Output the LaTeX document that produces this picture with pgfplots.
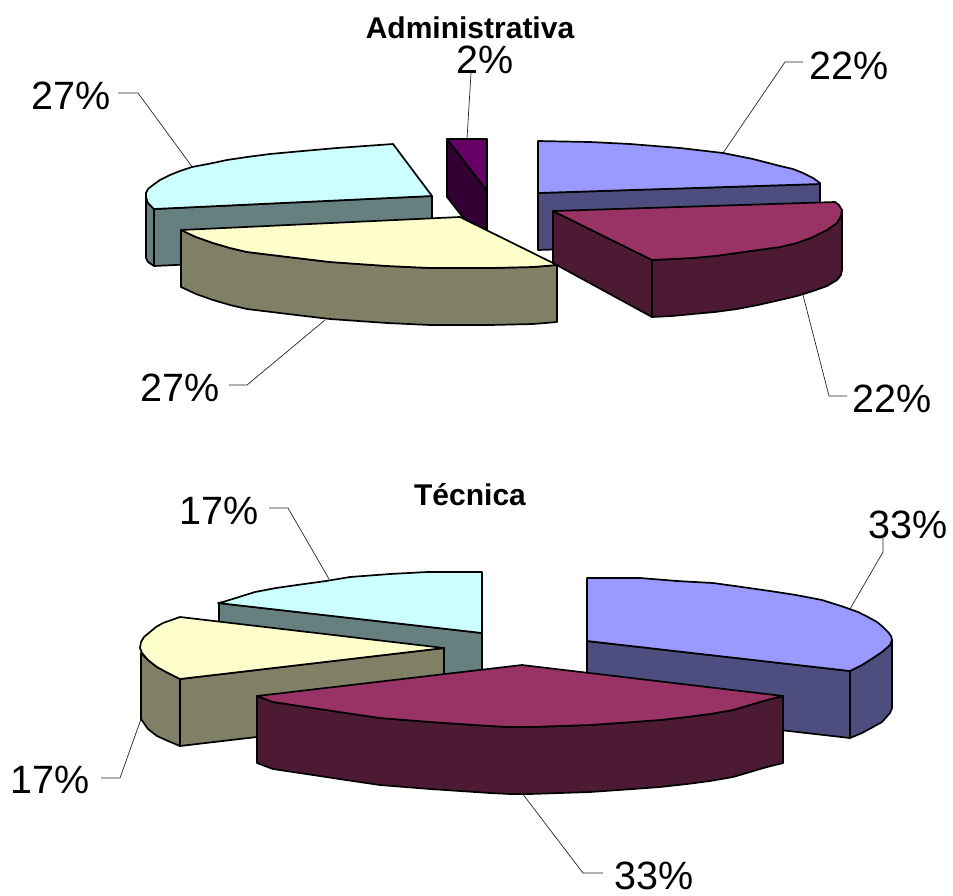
\documentclass[border=0pt]{standalone}
\usepackage{fontspec}
\setmainfont{Liberation Sans}
\usepackage{pgfplots}
\pgfplotsset{compat=1.18}
\definecolor{blueT}{HTML}{9999FF}\definecolor{blueS}{HTML}{4D4D80}
\definecolor{maroonT}{HTML}{993366}\definecolor{maroonS}{HTML}{4D1A33}
\definecolor{yellowT}{HTML}{FFFFCC}\definecolor{yellowS}{HTML}{808066}
\definecolor{cyanT}{HTML}{CCFFFF}\definecolor{cyanS}{HTML}{668080}
\definecolor{purpleT}{HTML}{660066}\definecolor{purpleS}{HTML}{330033}
\tikzset{
  face/.style={draw=black,line width=1.7pt,line join=round,fill=#1,mark=none},
  leader/.style={draw=black!85,line width=0.7pt,mark=none},
  pct/.style={font=\fontsize{39.5}{39.5}\selectfont,inner sep=0pt},
  ttl/.style={font=\fontsize{30}{30}\selectfont\bfseries,inner sep=0pt},
}
\begin{document}
\begin{tikzpicture}
\useasboundingbox (0,0) rectangle (953pt,895pt);
\begin{axis}[
  hide axis, scale only axis, width=953pt, height=895pt,
  xmin=0, xmax=953, ymin=0, ymax=895, y dir=reverse, clip=false,
]
% ---- Administrativa: leader lines
\addplot[leader] coordinates {(118,93)(138,93)(193,168)};
\addplot[leader] coordinates {(471,73)(467,139)};
\addplot[leader] coordinates {(803,62)(785,62)(723,153)};
\addplot[leader] coordinates {(803,295)(829,396)(847,396)};
\addplot[leader] coordinates {(325,320)(247,385)(229,385)};
% cyan slice
\addplot[face=cyanS] coordinates {(146,193)(146,197)(148,203)(154,209)(154,266)(148,262)(146,258)} -- cycle;
\addplot[face=cyanS] coordinates {(154,209)(432,196)(432,253)(154,266)} -- cycle;
\addplot[face=cyanT] coordinates {(393,144)(365,146)(337,148)(303,151)(270,154)(247,157)(227,160)(208,164)(192,167)(180,171)(170,175)(160,180)(153,185)(148,189)(146,193)(146,197)(148,203)(154,209)(432,196)} -- cycle;
% purple slice
\addplot[face=purpleS] coordinates {(447,139)(487,191)(487,248)(447,197)} -- cycle;
\addplot[face=purpleT] coordinates {(447,139)(487,139)(487,191)} -- cycle;
% blue slice
\addplot[face=blueS] coordinates {(538,193)(820,184)(820,241)(538,250)} -- cycle;
\addplot[face=blueT] coordinates {(538,141)(590,142)(630,144)(655,146)(680,148)(723,153)(753,159)(780,166)(793,169)(803,173)(813,178)(820,183)(820,184)(538,193)} -- cycle;
% yellow slice
\addplot[face=yellowS] coordinates {(181,230)(196,237)(213,243)(230,248)(247,252)(288,257)(330,262)(387,266)(430,268)(490,268)(533,267)(557,265)(557,322)(533,324)(490,325)(430,325)(387,323)(330,319)(288,314)(247,309)(230,305)(213,300)(196,294)(181,287)} -- cycle;
\addplot[face=yellowT] coordinates {(181,230)(460,217)(557,265)(533,267)(490,268)(430,268)(387,266)(330,262)(288,257)(247,252)(230,248)(213,243)(196,237)} -- cycle;
% maroon slice
\addplot[face=maroonS] coordinates {(553,211)(652,260)(652,317)(553,263)} -- cycle;
\addplot[face=maroonS] coordinates {(652,260)(672,259)(693,258)(715,256)(737,253)(758,250)(780,247)(797,243)(813,237)(827,230)(837,223)(841,216)(842,210)(842,270)(841,275)(837,280)(827,286)(813,291)(797,296)(780,300)(758,305)(737,309)(715,312)(693,314)(672,316)(652,317)} -- cycle;
\addplot[face=maroonT] coordinates {(553,211)(835,202)(839,205)(842,210)(841,216)(837,223)(827,230)(813,237)(797,243)(780,247)(758,250)(737,253)(715,256)(693,258)(672,259)(652,260)} -- cycle;
% ---- Tecnica: leader lines
\addplot[leader] coordinates {(269,508)(288,508)(329,579)};
\addplot[leader] coordinates {(883,538)(883,552)(850,609)};
\addplot[leader] coordinates {(141,719)(120,778)(101,778)};
\addplot[leader] coordinates {(522,793)(583,873)(603,873)};
% cyan slice
\addplot[face=cyanS] coordinates {(219,603)(482,633)(482,693)(219,663)} -- cycle;
\addplot[face=cyanT] coordinates {(482,572)(427,572)(390,574)(350,577)(326,581)(297,585)(276,588)(255,592)(239,597)(223,602)(218,603)(482,633)} -- cycle;
% yellow slice
\addplot[face=yellowS] coordinates {(141,653)(148,660)(157,667)(168,673)(180,679)(180,746)(168,741)(157,736)(148,729)(141,719)} -- cycle;
\addplot[face=yellowS] coordinates {(180,679)(444,648)(444,715)(180,746)} -- cycle;
\addplot[face=yellowT] coordinates {(180,617)(444,648)(180,679)(168,673)(157,667)(148,660)(142,653)(140,648)(141,642)(144,637)(150,632)(156,627)(163,623)} -- cycle;
% blue slice
\addplot[face=blueS] coordinates {(587,641)(850,671)(850,738)(587,708)} -- cycle;
\addplot[face=blueS] coordinates {(850,671)(862,665)(873,658)(882,652)(890,645)(892,640)(892,708)(890,713)(882,722)(873,727)(862,733)(850,738)} -- cycle;
\addplot[face=blueT] coordinates {(587,578)(640,578)(677,581)(713,583)(742,587)(770,591)(796,595)(822,600)(841,606)(858,612)(868,617)(877,622)(883,627)(888,632)(891,636)(892,640)(890,645)(882,652)(873,658)(862,665)(850,671)(587,641)} -- cycle;
% maroon slice
\addplot[face=maroonS] coordinates {(257,696)(273,702)(293,705)(313,708)(346,713)(380,718)(405,720)(430,722)(460,724)(490,726)(510,727)(530,727)(560,726)(590,725)(633,722)(660,720)(687,717)(710,714)(733,710)(750,705)(767,700)(783,696)(783,763)(767,767)(750,772)(733,777)(710,781)(687,784)(660,787)(633,789)(590,792)(560,793)(530,794)(510,794)(490,793)(460,791)(430,789)(405,787)(380,785)(346,780)(313,775)(293,772)(273,769)(257,763)} -- cycle;
\addplot[face=maroonT] coordinates {(522,665)(783,696)(767,700)(750,705)(733,710)(710,714)(687,717)(660,720)(633,722)(590,725)(560,726)(530,727)(510,727)(490,726)(460,724)(430,722)(405,720)(380,718)(346,713)(313,708)(293,705)(273,702)(257,696)} -- cycle;
% ---- titles and percentage labels
\node[ttl] at (axis cs:470,28) {Administrativa};
\node[ttl] at (axis cs:470,495) {Técnica};
\node[pct] at (axis cs:71,96) {27\%};
\node[pct] at (axis cs:485,60) {2\%};
\node[pct] at (axis cs:849.5,66) {22\%};
\node[pct] at (axis cs:892.5,399) {22\%};
\node[pct] at (axis cs:180,388) {27\%};
\node[pct] at (axis cs:219,511) {17\%};
\node[pct] at (axis cs:908.5,525) {33\%};
\node[pct] at (axis cs:50.5,780) {17\%};
\node[pct] at (axis cs:654.5,876) {33\%};
\end{axis}
\end{tikzpicture}
\end{document}
